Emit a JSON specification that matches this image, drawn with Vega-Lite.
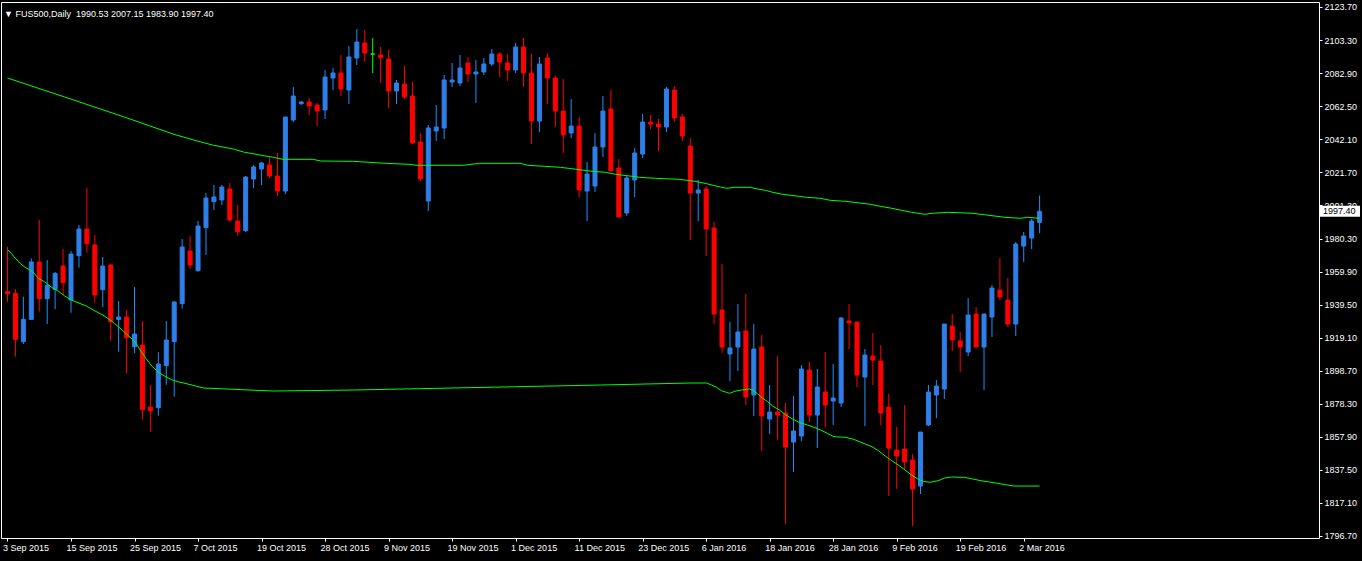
{
  "$schema": "https://vega.github.io/schema/vega-lite/v6.json",
  "width": 1318,
  "height": 536,
  "autosize": "none",
  "padding": {"left": 1, "top": 2, "right": 43, "bottom": 23},
  "background": "black",
  "title": {"text": "\u25bc FUS500,Daily\u00a0\u00a01990.53 2007.15 1983.90 1997.40", "anchor": "start", "frame": "group", "orient": "top", "offset": 0, "dx": 3, "dy": 24, "baseline": "alphabetic", "color": "white", "font": "Liberation Sans", "fontSize": 9, "fontWeight": "normal"},
  "config": {
    "view": {"stroke": "white", "strokeWidth": 1, "fill": "black"},
    "font": "Liberation Sans",
    "axis": {"labelOverlap": false, "labelSeparation": 0},
    "axisY": {"labelOverlap": false, "labelSeparation": 0},
    "axisRight": {"labelOverlap": false},
    "axisQuantitative": {"labelOverlap": false, "tickCount": 17}
  },
  "datasets": {
    "candles": [
      {"i":0,"o":1947.72,"h":1975.54,"l":1941.53,"c":1946.48},
      {"i":1,"o":1946.69,"h":1949.36,"l":1907.53,"c":1918.25},
      {"i":2,"o":1916.81,"h":1944.63,"l":1915.36,"c":1930.61},
      {"i":3,"o":1930.61,"h":1968.32,"l":1930.20,"c":1966.06},
      {"i":4,"o":1966.06,"h":1992.02,"l":1935.35,"c":1943.39},
      {"i":5,"o":1943.39,"h":1967.29,"l":1927.73,"c":1951.63},
      {"i":6,"o":1949.16,"h":1959.87,"l":1937.00,"c":1959.05},
      {"i":7,"o":1963.58,"h":1974.09,"l":1945.66,"c":1953.28},
      {"i":8,"o":1942.56,"h":1972.86,"l":1934.73,"c":1971.00},
      {"i":9,"o":1969.97,"h":1988.93,"l":1962.55,"c":1986.46},
      {"i":10,"o":1986.46,"h":2011.80,"l":1971.83,"c":1977.39},
      {"i":11,"o":1976.57,"h":1982.75,"l":1940.92,"c":1945.66},
      {"i":12,"o":1948.95,"h":1969.15,"l":1938.24,"c":1963.58},
      {"i":13,"o":1964.20,"h":1965.03,"l":1917.42,"c":1929.17},
      {"i":14,"o":1930.61,"h":1941.95,"l":1910.62,"c":1932.06},
      {"i":15,"o":1932.06,"h":1936.38,"l":1897.23,"c":1919.28},
      {"i":16,"o":1913.71,"h":1950.60,"l":1909.80,"c":1921.55},
      {"i":17,"o":1914.75,"h":1929.58,"l":1868.59,"c":1874.77},
      {"i":18,"o":1876.42,"h":1890.02,"l":1861.17,"c":1874.15},
      {"i":19,"o":1876.00,"h":1910.42,"l":1871.06,"c":1903.00},
      {"i":20,"o":1901.97,"h":1929.58,"l":1890.22,"c":1917.84},
      {"i":21,"o":1916.81,"h":1941.95,"l":1882.80,"c":1941.33},
      {"i":22,"o":1940.30,"h":1980.28,"l":1937.21,"c":1975.33},
      {"i":23,"o":1972.86,"h":1982.14,"l":1961.74,"c":1964.21},
      {"i":24,"o":1960.71,"h":1991.41,"l":1960.09,"c":1988.32},
      {"i":25,"o":1987.29,"h":2008.72,"l":1970.39,"c":2005.63},
      {"i":26,"o":2003.36,"h":2013.67,"l":1998.21,"c":2006.25},
      {"i":27,"o":2004.39,"h":2013.67,"l":2001.30,"c":2012.43},
      {"i":28,"o":2011.19,"h":2014.90,"l":1991.00,"c":1992.03},
      {"i":29,"o":1991.41,"h":2001.30,"l":1982.14,"c":1984.82},
      {"i":30,"o":1985.43,"h":2019.23,"l":1984.61,"c":2018.61},
      {"i":31,"o":2017.37,"h":2026.03,"l":2011.81,"c":2024.79},
      {"i":32,"o":2023.56,"h":2027.88,"l":2013.67,"c":2027.27},
      {"i":33,"o":2026.03,"h":2030.98,"l":2017.99,"c":2019.23},
      {"i":34,"o":2019.23,"h":2033.45,"l":2006.87,"c":2009.96},
      {"i":35,"o":2009.96,"h":2055.70,"l":2008.10,"c":2055.70},
      {"i":36,"o":2053.85,"h":2074.25,"l":2052.61,"c":2068.69},
      {"i":37,"o":2063.95,"h":2065.59,"l":2063.12,"c":2064.98},
      {"i":38,"o":2064.98,"h":2067.45,"l":2056.94,"c":2062.50},
      {"i":39,"o":2063.12,"h":2064.36,"l":2050.14,"c":2059.41},
      {"i":40,"o":2060.03,"h":2084.76,"l":2054.47,"c":2080.43},
      {"i":41,"o":2079.81,"h":2086.00,"l":2072.40,"c":2082.90},
      {"i":42,"o":2082.90,"h":2094.03,"l":2068.69,"c":2073.01},
      {"i":43,"o":2072.40,"h":2099.60,"l":2063.74,"c":2092.80},
      {"i":44,"o":2092.18,"h":2110.11,"l":2087.85,"c":2102.07},
      {"i":45,"o":2101.45,"h":2109.49,"l":2089.71,"c":2095.27},
      {"i":46,"o":2094.65,"h":2104.54,"l":2082.90,"c":2094.65},
      {"i":47,"o":2094.03,"h":2098.98,"l":2076.72,"c":2092.38},
      {"i":48,"o":2091.56,"h":2097.12,"l":2061.27,"c":2071.78},
      {"i":49,"o":2071.78,"h":2078.58,"l":2063.74,"c":2076.72},
      {"i":50,"o":2076.10,"h":2087.23,"l":2066.83,"c":2068.07},
      {"i":51,"o":2068.69,"h":2077.34,"l":2039.01,"c":2039.63},
      {"i":52,"o":2040.25,"h":2045.81,"l":2016.14,"c":2017.37},
      {"i":53,"o":2003.77,"h":2050.76,"l":1997.59,"c":2048.90},
      {"i":54,"o":2047.05,"h":2063.12,"l":2040.87,"c":2049.52},
      {"i":55,"o":2048.90,"h":2081.67,"l":2042.10,"c":2078.58},
      {"i":56,"o":2077.34,"h":2089.09,"l":2074.25,"c":2078.58},
      {"i":57,"o":2076.72,"h":2094.03,"l":2074.87,"c":2086.00},
      {"i":58,"o":2089.09,"h":2092.80,"l":2077.34,"c":2082.29},
      {"i":59,"o":2082.29,"h":2090.94,"l":2064.36,"c":2083.52},
      {"i":60,"o":2083.52,"h":2092.18,"l":2081.67,"c":2088.47},
      {"i":61,"o":2088.47,"h":2097.74,"l":2087.23,"c":2094.65},
      {"i":62,"o":2094.65,"h":2095.89,"l":2080.43,"c":2089.71},
      {"i":63,"o":2089.09,"h":2094.65,"l":2077.96,"c":2084.76},
      {"i":64,"o":2084.76,"h":2101.45,"l":2082.90,"c":2098.98},
      {"i":65,"o":2098.98,"h":2104.54,"l":2074.25,"c":2082.90},
      {"i":66,"o":2082.90,"h":2094.64,"l":2039.00,"c":2053.22},
      {"i":67,"o":2053.22,"h":2092.79,"l":2046.42,"c":2088.46},
      {"i":68,"o":2092.17,"h":2095.26,"l":2063.73,"c":2079.81},
      {"i":69,"o":2079.81,"h":2081.04,"l":2049.51,"c":2059.40},
      {"i":70,"o":2059.40,"h":2079.19,"l":2033.44,"c":2044.57},
      {"i":71,"o":2045.80,"h":2066.82,"l":2042.71,"c":2050.13},
      {"i":72,"o":2050.13,"h":2055.70,"l":2006.24,"c":2010.57},
      {"i":73,"o":2009.95,"h":2027.88,"l":1991.40,"c":2020.46},
      {"i":74,"o":2013.04,"h":2045.80,"l":2009.33,"c":2037.15},
      {"i":75,"o":2037.15,"h":2068.68,"l":2030.97,"c":2059.40},
      {"i":76,"o":2060.64,"h":2072.39,"l":2022.31,"c":2022.31},
      {"i":77,"o":2024.17,"h":2029.73,"l":1993.87,"c":1993.87},
      {"i":78,"o":1996.35,"h":2019.22,"l":1994.49,"c":2017.98},
      {"i":79,"o":2016.75,"h":2036.53,"l":2006.24,"c":2033.44},
      {"i":80,"o":2032.82,"h":2057.55,"l":2030.35,"c":2052.60},
      {"i":81,"o":2052.60,"h":2056.93,"l":2048.28,"c":2051.37},
      {"i":82,"o":2051.37,"h":2054.46,"l":2034.68,"c":2049.51},
      {"i":83,"o":2049.51,"h":2074.24,"l":2046.42,"c":2073.01},
      {"i":84,"o":2072.39,"h":2074.86,"l":2052.60,"c":2055.08},
      {"i":85,"o":2055.70,"h":2057.55,"l":2040.86,"c":2043.95},
      {"i":86,"o":2037.77,"h":2042.71,"l":1979.66,"c":2008.71},
      {"i":87,"o":2008.71,"h":2016.75,"l":1991.40,"c":2010.57},
      {"i":88,"o":2011.19,"h":2013.05,"l":1969.77,"c":1986.47},
      {"i":89,"o":1987.08,"h":1990.79,"l":1927.74,"c":1933.92},
      {"i":90,"o":1936.39,"h":1964.83,"l":1909.81,"c":1913.52},
      {"i":91,"o":1909.19,"h":1928.97,"l":1892.50,"c":1912.90},
      {"i":92,"o":1913.52,"h":1940.10,"l":1898.68,"c":1922.79},
      {"i":93,"o":1923.41,"h":1946.28,"l":1877.66,"c":1882.61},
      {"i":94,"o":1883.84,"h":1927.74,"l":1870.86,"c":1912.28},
      {"i":95,"o":1913.52,"h":1920.94,"l":1849.22,"c":1870.86},
      {"i":96,"o":1869.01,"h":1890.02,"l":1859.73,"c":1873.33},
      {"i":97,"o":1873.33,"h":1907.95,"l":1856.02,"c":1871.48},
      {"i":98,"o":1872.71,"h":1878.90,"l":1804.09,"c":1851.70},
      {"i":99,"o":1854.79,"h":1883.22,"l":1836.24,"c":1861.59},
      {"i":100,"o":1858.50,"h":1902.39,"l":1855.41,"c":1899.92},
      {"i":101,"o":1899.30,"h":1904.24,"l":1867.15,"c":1871.48},
      {"i":102,"o":1871.48,"h":1899.92,"l":1851.08,"c":1888.79},
      {"i":103,"o":1885.70,"h":1910.43,"l":1864.06,"c":1877.66},
      {"i":104,"o":1880.13,"h":1903.01,"l":1865.30,"c":1881.99},
      {"i":105,"o":1878.90,"h":1932.06,"l":1876.42,"c":1931.44},
      {"i":106,"o":1929.59,"h":1940.10,"l":1912.28,"c":1928.35},
      {"i":107,"o":1928.97,"h":1928.97,"l":1888.79,"c":1896.21},
      {"i":108,"o":1894.97,"h":1912.28,"l":1864.68,"c":1908.57},
      {"i":109,"o":1907.95,"h":1922.16,"l":1890.02,"c":1905.47},
      {"i":110,"o":1904.85,"h":1914.75,"l":1865.29,"c":1872.71},
      {"i":111,"o":1876.42,"h":1884.45,"l":1821.40,"c":1851.07},
      {"i":112,"o":1849.83,"h":1864.05,"l":1825.72,"c":1846.12},
      {"i":113,"o":1850.45,"h":1877.65,"l":1837.47,"c":1842.41},
      {"i":114,"o":1843.65,"h":1847.36,"l":1802.85,"c":1825.72},
      {"i":115,"o":1827.58,"h":1860.96,"l":1822.63,"c":1860.96},
      {"i":116,"o":1865.29,"h":1890.02,"l":1864.67,"c":1885.69},
      {"i":117,"o":1883.83,"h":1893.11,"l":1869.62,"c":1889.40},
      {"i":118,"o":1887.54,"h":1927.73,"l":1881.36,"c":1927.73},
      {"i":119,"o":1926.49,"h":1933.91,"l":1911.04,"c":1917.84},
      {"i":120,"o":1917.22,"h":1922.78,"l":1898.05,"c":1913.51},
      {"i":121,"o":1910.42,"h":1943.80,"l":1907.95,"c":1933.29},
      {"i":122,"o":1933.91,"h":1938.24,"l":1913.51,"c":1913.51},
      {"i":123,"o":1913.51,"h":1933.91,"l":1886.93,"c":1933.91},
      {"i":124,"o":1932.06,"h":1951.84,"l":1919.69,"c":1949.98},
      {"i":125,"o":1948.75,"h":1968.53,"l":1942.56,"c":1944.42},
      {"i":126,"o":1942.56,"h":1956.17,"l":1925.87,"c":1927.73},
      {"i":127,"o":1927.73,"h":1978.42,"l":1920.31,"c":1977.18},
      {"i":128,"o":1975.95,"h":1984.60,"l":1966.06,"c":1982.13},
      {"i":129,"o":1980.89,"h":1992.64,"l":1974.09,"c":1991.40},
      {"i":130,"o":1990.53,"h":2007.15,"l":1983.90,"c":1997.40}
    ],
    "ma": [
      {"s":"a","i":0,"v":2079.81},{"s":"a","i":7.21,"v":2068.06},{"s":"a","i":14.71,"v":2055.70},{"s":"a","i":20.96,"v":2045.01},{"s":"a","i":23.46,"v":2041.48},{"s":"a","i":25.96,"v":2038.21},{"s":"a","i":28.46,"v":2035.92},{"s":"a","i":29.71,"v":2034.06},{"s":"a","i":31.80,"v":2032.21},{"s":"a","i":33.46,"v":2030.79},{"s":"a","i":34.71,"v":2029.55},{"s":"a","i":38.46,"v":2029.55},{"s":"a","i":39.46,"v":2028.50},{"s":"a","i":43.46,"v":2028.32},{"s":"a","i":45.55,"v":2027.70},{"s":"a","i":47.59,"v":2027.08},{"s":"a","i":50.55,"v":2026.46},{"s":"a","i":51.59,"v":2025.84},{"s":"a","i":57.43,"v":2025.84},{"s":"a","i":59.46,"v":2027.08},{"s":"a","i":64.55,"v":2027.08},{"s":"a","i":65.55,"v":2025.84},{"s":"a","i":67.63,"v":2025.22},{"s":"a","i":69.63,"v":2024.60},{"s":"a","i":70.63,"v":2023.99},{"s":"a","i":72.63,"v":2022.75},{"s":"a","i":73.63,"v":2022.13},{"s":"a","i":75.34,"v":2021.51},{"s":"a","i":76.59,"v":2020.28},{"s":"a","i":78.68,"v":2019.04},{"s":"a","i":79.59,"v":2018.42},{"s":"a","i":81.59,"v":2017.81},{"s":"a","i":84.59,"v":2017.19},{"s":"a","i":86.59,"v":2015.95},{"s":"a","i":87.84,"v":2014.71},{"s":"a","i":88.88,"v":2013.48},{"s":"a","i":89.93,"v":2012.24},{"s":"a","i":90.63,"v":2011.62},{"s":"a","i":91.50,"v":2012.24},{"s":"a","i":93.55,"v":2012.24},{"s":"a","i":94.63,"v":2011.01},{"s":"a","i":95.46,"v":2010.39},{"s":"a","i":96.38,"v":2009.15},{"s":"a","i":97.63,"v":2007.91},{"s":"a","i":98.68,"v":2007.30},{"s":"a","i":99.71,"v":2006.68},{"s":"a","i":100.63,"v":2006.06},{"s":"a","i":102.38,"v":2005.44},{"s":"a","i":103.63,"v":2004.20},{"s":"a","i":105.55,"v":2003.59},{"s":"a","i":106.63,"v":2002.97},{"s":"a","i":107.63,"v":2002.35},{"s":"a","i":108.68,"v":2001.73},{"s":"a","i":109.93,"v":2000.50},{"s":"a","i":111.38,"v":1999.26},{"s":"a","i":112.63,"v":1998.02},{"s":"a","i":113.88,"v":1996.79},{"s":"a","i":114.71,"v":1996.17},{"s":"a","i":115.55,"v":1995.55},{"s":"a","i":116.46,"v":1996.17},{"s":"a","i":118.46,"v":1996.79},{"s":"a","i":121.59,"v":1996.17},{"s":"a","i":123.63,"v":1994.93},{"s":"a","i":125.63,"v":1993.70},{"s":"a","i":127.63,"v":1993.08},{"s":"a","i":128.46,"v":1993.70},{"s":"a","i":130,"v":1993.08},
      {"s":"b","i":0,"v":1973.79},{"s":"b","i":0.55,"v":1971.01},{"s":"b","i":0.96,"v":1968.53},{"s":"b","i":1.59,"v":1965.26},{"s":"b","i":2.21,"v":1962.79},{"s":"b","i":2.84,"v":1961.12},{"s":"b","i":3.46,"v":1958.64},{"s":"b","i":3.88,"v":1955.98},{"s":"b","i":4.71,"v":1953.70},{"s":"b","i":5.55,"v":1950.42},{"s":"b","i":6.38,"v":1948.13},{"s":"b","i":7.21,"v":1945.04},{"s":"b","i":8.05,"v":1942.57},{"s":"b","i":8.88,"v":1940.90},{"s":"b","i":9.93,"v":1938.86},{"s":"b","i":10.96,"v":1935.96},{"s":"b","i":12.0,"v":1933.30},{"s":"b","i":12.63,"v":1931.26},{"s":"b","i":13.46,"v":1928.17},{"s":"b","i":14.30,"v":1924.64},{"s":"b","i":15.13,"v":1920.93},{"s":"b","i":15.96,"v":1917.22},{"s":"b","i":16.38,"v":1914.32},{"s":"b","i":16.80,"v":1911.04},{"s":"b","i":17.43,"v":1906.53},{"s":"b","i":18.25,"v":1901.34},{"s":"b","i":19.09,"v":1897.63},{"s":"b","i":19.93,"v":1895.15},{"s":"b","i":20.75,"v":1893.11},{"s":"b","i":21.59,"v":1891.88},{"s":"b","i":22.21,"v":1891.26},{"s":"b","i":24.71,"v":1888.17},{"s":"b","i":33.46,"v":1886.31},{"s":"b","i":43.46,"v":1886.93},{"s":"b","i":49.71,"v":1887.55},{"s":"b","i":62.21,"v":1888.79},{"s":"b","i":74.71,"v":1890.02},{"s":"b","i":85.96,"v":1891.26},{"s":"b","i":88.05,"v":1891.26},{"s":"b","i":88.68,"v":1890.02},{"s":"b","i":89.30,"v":1888.60},{"s":"b","i":89.93,"v":1886.50},{"s":"b","i":90.55,"v":1885.51},{"s":"b","i":90.96,"v":1884.89},{"s":"b","i":91.59,"v":1886.13},{"s":"b","i":92.43,"v":1886.93},{"s":"b","i":93.46,"v":1887.55},{"s":"b","i":93.88,"v":1886.75},{"s":"b","i":94.5,"v":1884.46},{"s":"b","i":95.13,"v":1881.80},{"s":"b","i":95.75,"v":1879.70},{"s":"b","i":96.38,"v":1877.04},{"s":"b","i":97.21,"v":1874.57},{"s":"b","i":98.05,"v":1871.48},{"s":"b","i":98.88,"v":1869.00},{"s":"b","i":99.71,"v":1866.96},{"s":"b","i":100.75,"v":1865.29},{"s":"b","i":101.59,"v":1863.87},{"s":"b","i":102.43,"v":1862.20},{"s":"b","i":103.25,"v":1860.16},{"s":"b","i":104.09,"v":1858.06},{"s":"b","i":105.55,"v":1857.69},{"s":"b","i":106.59,"v":1856.45},{"s":"b","i":107.63,"v":1854.35},{"s":"b","i":108.88,"v":1851.88},{"s":"b","i":109.71,"v":1849.41},{"s":"b","i":110.55,"v":1846.13},{"s":"b","i":111.38,"v":1843.23},{"s":"b","i":112.21,"v":1840.57},{"s":"b","i":113.05,"v":1837.48},{"s":"b","i":113.88,"v":1834.38},{"s":"b","i":114.71,"v":1831.73},{"s":"b","i":115.34,"v":1830.49},{"s":"b","i":116.18,"v":1829.87},{"s":"b","i":117.21,"v":1830.86},{"s":"b","i":118.05,"v":1832.53},{"s":"b","i":118.88,"v":1833.15},{"s":"b","i":120.55,"v":1832.96},{"s":"b","i":121.59,"v":1831.91},{"s":"b","i":122.63,"v":1830.86},{"s":"b","i":123.68,"v":1830.06},{"s":"b","i":124.71,"v":1829.25},{"s":"b","i":125.75,"v":1828.39},{"s":"b","i":126.80,"v":1827.58},{"s":"b","i":130,"v":1827.58}
    ],
    "price": [{"p": 1997.40, "t": "1997.40"}]
  },
  "layer": [
    {
      "data": {"name": "candles"},
      "mark": {"type": "rule", "strokeWidth": 1},
      "encoding": {
        "x": {"field": "i", "type": "quantitative", "title": null, "scale": {"domain": [-0.1875, 164.5625], "nice": false, "zero": false},
              "axis": {"orient": "bottom", "title": null, "domain": false, "grid": false, "tickColor": "white", "tickSize": 3, "labelColor": "white", "labelFont": "Liberation Sans", "labelFontSize": 9, "labelOverlap": false, "labelFlush": false, "labelBound": false, "labelAlign": "left", "labelBaseline": "top", "labelPadding": 2, "labelAngle": 0, "labelOffset": -5,
                       "values": [0,8,16,24,32,40,48,56,64,72,80,88,96,104,112,120,128], "labelExpr": "['3 Sep 2015','15 Sep 2015','25 Sep 2015','7 Oct 2015','19 Oct 2015','28 Oct 2015','9 Nov 2015','19 Nov 2015','1 Dec 2015','11 Dec 2015','23 Dec 2015','6 Jan 2016','18 Jan 2016','28 Jan 2016','9 Feb 2016','19 Feb 2016','2 Mar 2016'][round(datum.value/8)]"}},
        "y": {"field": "l", "type": "quantitative", "title": null, "scale": {"domain": [1795.46, 2126.79], "nice": false, "zero": false},
              "axis": {"orient": "right", "title": null, "domain": false, "grid": false, "tickColor": "white", "tickSize": 3, "labelColor": "white", "labelFont": "Liberation Sans", "labelFontSize": 9, "labelOverlap": false, "labelSeparation": 0, "labelFlush": false, "labelBound": false, "labelAlign": "left", "labelBaseline": "middle", "labelPadding": 2, "tickCount": 17,
                       "values": [2123.7,2103.3,2082.9,2062.5,2042.1,2021.7,2001.3,1980.3,1959.9,1939.5,1919.1,1898.7,1878.3,1857.9,1837.5,1817.1,1796.7], "labelExpr": "format(datum.value, '.2f')"}},
        "y2": {"field": "h"},
        "stroke": {"condition": [{"test": "datum.c > datum.o", "value": "#1E90FF"}, {"test": "datum.c < datum.o", "value": "#FF0000"}], "value": "#00FF00"}
      }
    },
    {
      "data": {"name": "candles"},
      "mark": {"type": "bar", "width": 4, "strokeWidth": 1},
      "encoding": {
        "x": {"field": "i", "type": "quantitative", "title": null, "scale": {"domain": [-0.1875, 164.5625], "nice": false, "zero": false}},
        "y": {"field": "o", "type": "quantitative", "title": null, "scale": {"domain": [1795.46, 2126.79], "nice": false, "zero": false}},
        "y2": {"field": "c"},
        "fill": {"condition": [{"test": "datum.c > datum.o", "value": "#2E7FE8"}, {"test": "datum.c < datum.o", "value": "#FF0000"}], "value": "#00FF00"},
        "stroke": {"condition": [{"test": "datum.c > datum.o", "value": "#2E7FE8"}, {"test": "datum.c < datum.o", "value": "#FF0000"}], "value": "#00FF00"}
      }
    },
    {
      "data": {"name": "ma"},
      "mark": {"type": "line", "strokeWidth": 1, "color": "#00FF00"},
      "encoding": {
        "x": {"field": "i", "type": "quantitative", "title": null, "scale": {"domain": [-0.1875, 164.5625], "nice": false, "zero": false}},
        "y": {"field": "v", "type": "quantitative", "title": null, "scale": {"domain": [1795.46, 2126.79], "nice": false, "zero": false}},
        "detail": {"field": "s"}
      }
    },
    {
      "data": {"name": "price"},
      "mark": {"type": "tick", "orient": "horizontal", "size": 40, "thickness": 11, "color": "white", "opacity": 1, "xOffset": 21},
      "encoding": {
        "x": {"value": "width"},
        "y": {"field": "p", "type": "quantitative", "title": null, "scale": {"domain": [1795.46, 2126.79], "nice": false, "zero": false}}
      }
    },
    {
      "data": {"name": "price"},
      "mark": {"type": "text", "align": "left", "baseline": "middle", "dx": 4, "color": "black", "font": "Liberation Sans", "fontSize": 9},
      "encoding": {
        "x": {"value": "width"},
        "y": {"field": "p", "type": "quantitative", "title": null, "scale": {"domain": [1795.46, 2126.79], "nice": false, "zero": false}},
        "text": {"field": "t"}
      }
    }
  ]
}
